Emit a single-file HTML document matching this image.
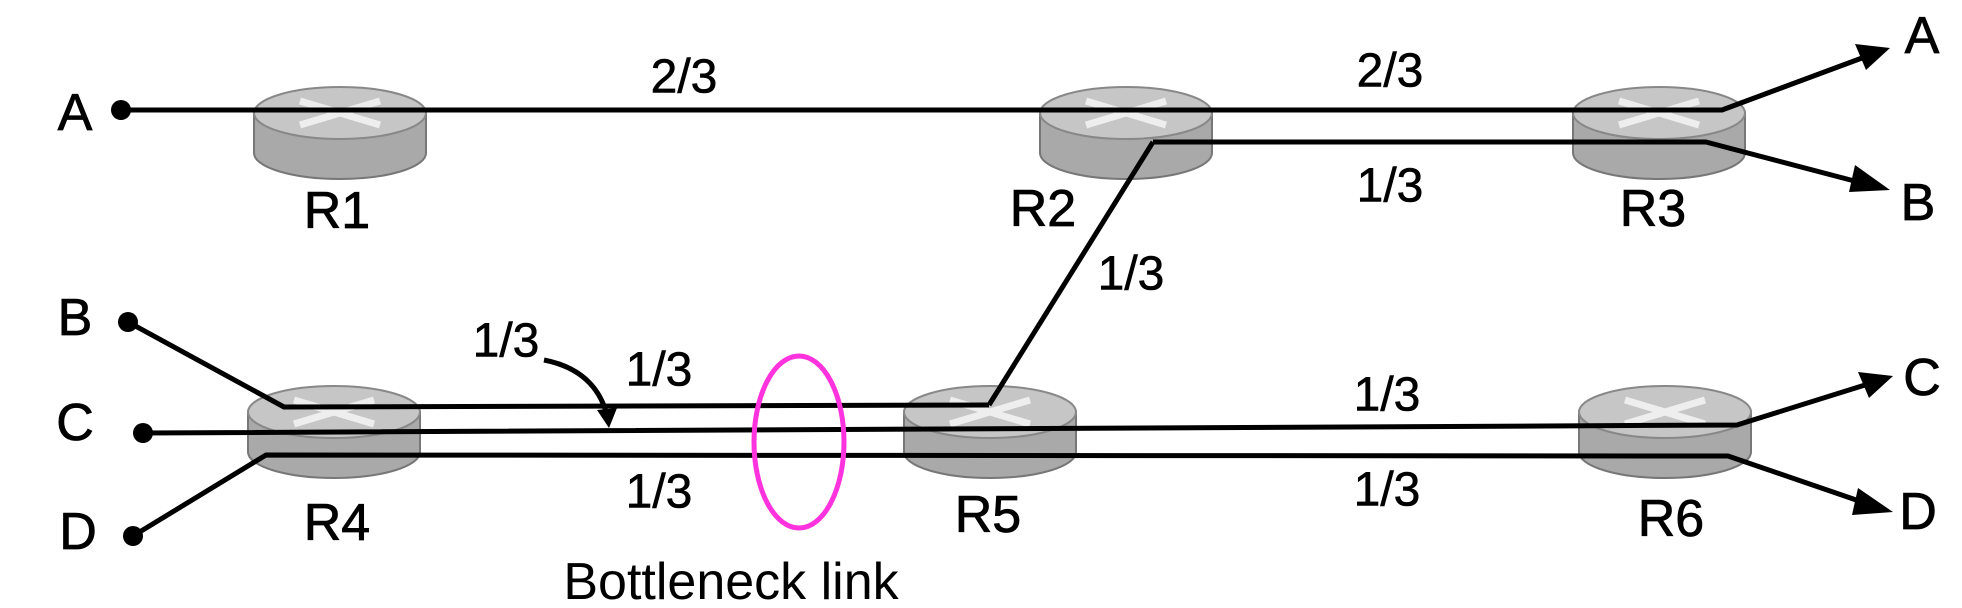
<!DOCTYPE html>
<html><head><style>
html,body{margin:0;padding:0;background:#fff;}
svg{display:block;}
text{font-family:"Liberation Sans",sans-serif;fill:#000;}
</style></head><body>
<svg width="1962" height="608" viewBox="0 0 1962 608" xmlns="http://www.w3.org/2000/svg">
<defs>
<g id="rt">
  <path d="M-86,0 L-86,40 A86,26 0 0 0 86,40 L86,0 Z" fill="#a9a9a9" stroke="#777" stroke-width="2"/>
  <ellipse cx="0" cy="0" rx="86" ry="26" fill="#c6c6c6" stroke="#888" stroke-width="2"/>
  <path d="M-40,-12 L40,12 M-40,12 L40,-12" stroke="#eee" stroke-width="7"/>
</g>
</defs>
<use href="#rt" x="340" y="113"/>
<use href="#rt" x="1126" y="113"/>
<use href="#rt" x="1659" y="113"/>
<use href="#rt" x="334" y="412"/>
<use href="#rt" x="990" y="412"/>
<use href="#rt" x="1665" y="412"/>
<g stroke="#000" stroke-width="5" fill="none" stroke-linejoin="round">
  <polyline points="121,110 1722,110 1862,58"/>
  <polyline points="1153,142 1706,142 1862,183"/>
  <polyline points="1153,142 989,405"/>
  <polyline points="128,322 284,407 989,405"/>
  <polyline points="143,433 1737,425 1865,385"/>
  <polyline points="133,536 266,455 1728,456 1865,503"/>
  <path d="M544,360 Q595,370 607,415"/>
</g>
<g fill="#000">
  <circle cx="121" cy="110" r="10"/>
  <circle cx="128" cy="322" r="10"/>
  <circle cx="143" cy="433" r="10"/>
  <circle cx="133" cy="536" r="10"/>
  <polygon points="1890,48 1855,44 1866,70"/>
  <polygon points="1890,190 1855,165 1849,192"/>
  <polygon points="1893,376 1858,372 1869,398"/>
  <polygon points="1893,512 1858,488 1852,515"/>
  <polygon points="609,428 597,410 617,408"/>
</g>
<ellipse cx="799" cy="442" rx="45" ry="86" fill="none" stroke="#ff33dd" stroke-width="5"/>
<g font-size="52" text-anchor="middle" dominant-baseline="central" stroke="#000" stroke-width="0.8">
  <text x="75" y="113">A</text>
  <text x="75" y="318">B</text>
  <text x="75" y="423">C</text>
  <text x="78" y="532">D</text>
  <text x="1922" y="36">A</text>
  <text x="1918" y="203">B</text>
  <text x="1922" y="378">C</text>
  <text x="1918" y="512">D</text>
  <text x="337" y="211">R1</text>
  <text x="1043" y="209">R2</text>
  <text x="1653" y="209">R3</text>
  <text x="337" y="523">R4</text>
  <text x="988" y="515">R5</text>
  <text x="1671" y="519">R6</text>
</g>
<g font-size="48" text-anchor="middle" dominant-baseline="central" stroke="#000" stroke-width="0.6">
  <text x="684" y="77">2/3</text>
  <text x="1390" y="71">2/3</text>
  <text x="1390" y="186">1/3</text>
  <text x="1131" y="274">1/3</text>
  <text x="506" y="341">1/3</text>
  <text x="659" y="370">1/3</text>
  <text x="659" y="492">1/3</text>
  <text x="1387" y="395">1/3</text>
  <text x="1387" y="490">1/3</text>
</g>
<text x="731" y="582" font-size="52" text-anchor="middle" dominant-baseline="central">Bottleneck link</text>
</svg>
</body></html>
